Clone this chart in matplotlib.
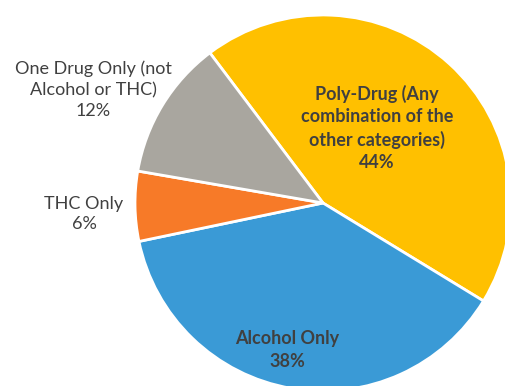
import matplotlib.pyplot as plt

labels = ['Poly-Drug (Any\ncombination of the\nother categories)', 'Alcohol Only', 'THC Only',
          'One Drug Only (not\nAlcohol or THC)']
shares = [44, 38, 6, 12]
colors = ['#FFC000', '#3A9AD6', '#F77A28', '#A9A69F']

# label centre positions in pixel coords (y from top)
label_pos = [(377, 128), (287, 350), (84, 214), (93, 90)]
inside = [True, True, False, False]

W, H = 505, 386
fig = plt.figure(figsize=(W / 100, H / 100), dpi=100)
ax = fig.add_axes([0, 0, 1, 1])

cx, cy, r = 323, 203, 188
ax.pie(shares, colors=colors, startangle=127, counterclock=False,
       center=(cx, H - cy), radius=r,
       wedgeprops=dict(edgecolor='white', linewidth=2))
ax.set_xlim(0, W)
ax.set_ylim(0, H)
ax.set_aspect('equal')
ax.axis('off')

for lab, val, (x, y), ins in zip(labels, shares, label_pos, inside):
    ax.text(x, H - y, lab + '\n' + str(val) + '%', ha='center', va='center',
            fontsize=13, family='Lato', color='#404040',
            fontweight='bold' if ins else 'normal', linespacing=1.38)

fig.savefig('out.png', dpi=100)
